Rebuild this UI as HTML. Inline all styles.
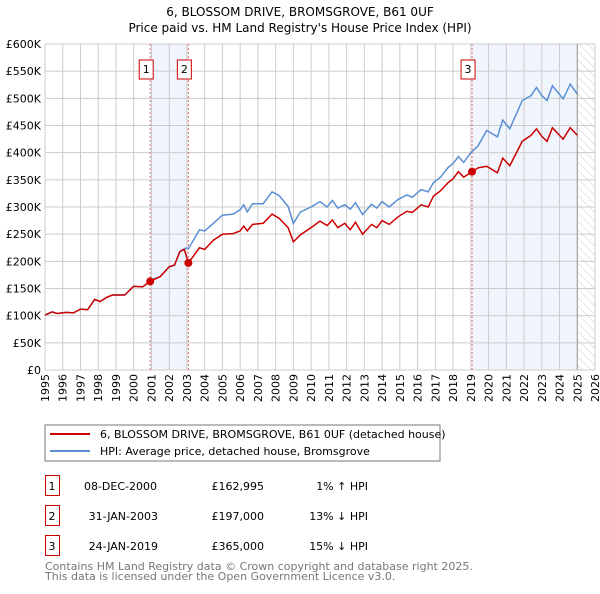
<!DOCTYPE html>
<html><head><meta charset="utf-8"><style>
body{margin:0;background:#fff;font-family:"DejaVu Sans","Liberation Sans",sans-serif;}
svg text{font-family:"DejaVu Sans","Liberation Sans",sans-serif;}
</style></head><body>
<svg id="chart" width="600" height="590" xmlns="http://www.w3.org/2000/svg">
<defs><pattern id="hatch" width="6" height="6" patternUnits="userSpaceOnUse" patternTransform="rotate(-45)"><line x1="0" y1="0" x2="0" y2="6" stroke="#ccc" stroke-width="1"/></pattern></defs>
<text x="300" y="16" font-size="12" text-anchor="middle">6, BLOSSOM DRIVE, BROMSGROVE, B61 0UF</text>
<text x="300" y="32" font-size="12" text-anchor="middle">Price paid vs. HM Land Registry's House Price Index (HPI)</text>
<g id="plot"></g>
<g>
<rect x="45" y="425" width="395" height="36" fill="#fff" stroke="#777"/>
<line x1="50" y1="434" x2="90" y2="434" stroke="#cc0000" stroke-width="2"/>
<text x="100" y="438" font-size="11">6, BLOSSOM DRIVE, BROMSGROVE, B61 0UF (detached house)</text>
<line x1="50" y1="451" x2="90" y2="451" stroke="#5b8fd4" stroke-width="2"/>
<text x="100" y="455" font-size="11">HPI: Average price, detached house, Bromsgrove</text>
</g>
<g font-size="11">
<rect x="45.5" y="475.5" width="14" height="20" fill="#fff" stroke="#cc0000"/><text x="52" y="490" text-anchor="middle">1</text>
<text x="157" y="490" text-anchor="end">08-DEC-2000</text><text x="264" y="490" text-anchor="end">£162,995</text><text x="368" y="490" text-anchor="end">1% ↑ HPI</text>
<rect x="45.5" y="505.5" width="14" height="20" fill="#fff" stroke="#cc0000"/><text x="52" y="520" text-anchor="middle">2</text>
<text x="158" y="520" text-anchor="end">31-JAN-2003</text><text x="264" y="520" text-anchor="end">£197,000</text><text x="368" y="520" text-anchor="end">13% ↓ HPI</text>
<rect x="45.5" y="535.5" width="14" height="20" fill="#fff" stroke="#cc0000"/><text x="52" y="550" text-anchor="middle">3</text>
<text x="158" y="550" text-anchor="end">24-JAN-2019</text><text x="264" y="550" text-anchor="end">£365,000</text><text x="368" y="550" text-anchor="end">15% ↓ HPI</text>
</g>
<text x="45" y="570" font-size="11" fill="#777">Contains HM Land Registry data © Crown copyright and database right 2025.</text>
<text x="45" y="580" font-size="11" fill="#777">This data is licensed under the Open Government Licence v3.0.</text>
</svg>
<script>
const hpiYears=[1995,1995.4,1995.7,1996.2,1996.6,1997,1997.4,1997.8,1998.1,1998.5,1998.8,1999.5,2000,2000.5,2001,2001.5,2002,2002.3,2002.6,2002.9,2003.1,2003.7,2004,2004.5,2005,2005.6,2006,2006.2,2006.4,2006.7,2007.3,2007.8,2008.2,2008.7,2009.0,2009.4,2010.0,2010.5,2010.9,2011.2,2011.5,2011.9,2012.2,2012.5,2012.9,2013.4,2013.7,2014.0,2014.4,2014.9,2015.4,2015.7,2016.2,2016.6,2016.9,2017.3,2017.7,2018.0,2018.3,2018.6,2019,2019.4,2019.9,2020.5,2020.8,2021.2,2021.9,2022.4,2022.7,2023.0,2023.3,2023.6,2024.2,2024.6,2025];
const hpiValues=[101,107,104,106,105,112,111,130,126,134,138,138,154,153,166,172,190,193,218,224,224,258,256,270,285,287,295,304,291,306,306,328,321,301,270,291,300,310,300,312,298,304,296,308,286,305,298,310,300,314,322,318,332,328,345,355,372,380,393,382,400,412,441,429,460,444,496,505,520,505,496,523,499,526,508];
const priceYears=[1995,1995.4,1995.7,1996.2,1996.6,1997,1997.4,1997.8,1998.1,1998.5,1998.8,1999.5,2000,2000.5,2000.93,2001.5,2002,2002.3,2002.6,2002.85,2003.08,2003.7,2004,2004.5,2005,2005.6,2006,2006.2,2006.4,2006.7,2007.3,2007.8,2008.2,2008.7,2009.0,2009.4,2010.0,2010.5,2010.9,2011.2,2011.5,2011.9,2012.2,2012.5,2012.9,2013.4,2013.7,2014.0,2014.4,2014.9,2015.4,2015.7,2016.2,2016.6,2016.9,2017.3,2017.7,2018.0,2018.3,2018.6,2019.07,2019.4,2019.9,2020.5,2020.8,2021.2,2021.9,2022.4,2022.7,2023.0,2023.3,2023.6,2024.2,2024.6,2025];
const priceValues=[101,107,104,106,105,112,111,130,126,134,138,138,154,153,163,172,190,193,218,222,197,225,222,239,250,251,256,265,256,268,270,287,279,262,236,249,262,274,266,276,262,270,258,272,250,268,262,275,268,282,292,290,304,300,320,330,344,352,365,355,365,372,375,363,390,376,421,432,444,430,421,446,425,446,432];
const saleYears=[2000.93,2003.08,2019.07];
const saleValues=[163,197,365];
const saleLabels=["1","2","3"];
const yTicks=[0,50,100,150,200,250,300,350,400,450,500,550,600];
const yTickLabels=["£0","£50K","£100K","£150K","£200K","£250K","£300K","£350K","£400K","£450K","£500K","£550K","£600K"];
const xTicks=[1995,1996,1997,1998,1999,2000,2001,2002,2003,2004,2005,2006,2007,2008,2009,2010,2011,2012,2013,2014,2015,2016,2017,2018,2019,2020,2021,2022,2023,2024,2025,2026];

const NS="http://www.w3.org/2000/svg";
const X0=45,X1=595,Y0=370,Y1=44;
const xs=y=>X0+(y-1995)/(2026-1995)*(X1-X0);
const ys=v=>Y0-v/600*(Y0-Y1);
const g=document.getElementById('plot');
function mk(tag,attrs,parent){const e=document.createElementNS(NS,tag);for(const k in attrs)e.setAttribute(k,attrs[k]);(parent||g).appendChild(e);return e;}
let s1=mk('rect',{x:xs(saleYears[0]),y:Y1,width:xs(saleYears[1])-xs(saleYears[0]),height:Y0-Y1,fill:'#f1f5fd'});


let s2=mk('rect',{x:xs(saleYears[2]),y:Y1,width:xs(2025)-xs(saleYears[2]),height:Y0-Y1,fill:'#f1f5fd'});


let h=mk('rect',{x:xs(2025),y:Y1,width:X1-xs(2025),height:Y0-Y1,fill:'url(#hatch)'});


yTicks.forEach((t,i)=>{
 let l=mk('line',{x1:X0,x2:X1,y1:ys(t),y2:ys(t),stroke:'#ccc','stroke-width':1});
 
 
 let tx=mk('text',{x:X0-4,y:ys(t)+4,'font-size':11,'text-anchor':'end'});
 
 
 tx.textContent=yTickLabels[i];
});
xTicks.forEach(t=>{
 let l=mk('line',{x1:xs(t),x2:xs(t),y1:Y1,y2:Y0,stroke:'#ccc','stroke-width':1});
 
 
 let tx=mk('text',{x:0,y:0,'font-size':11,'text-anchor':'end',transform:`translate(${xs(t)+4},${Y0+4}) rotate(-90)`});
 
 
 tx.textContent=t;
});
let vl=mk('line',{x1:xs(2025),x2:xs(2025),y1:Y1,y2:Y0,stroke:'#999','stroke-width':1});


saleYears.forEach((sy,i)=>{
 let l=mk('line',{x1:xs(sy),x2:xs(sy),y1:Y1,y2:Y0,stroke:'#e87070','stroke-width':1,'stroke-dasharray':'2,2'});
 
 
 let b=mk('rect',{x:xs(sy)-11,y:60,width:14,height:19,fill:'#fff',stroke:'#cc0000'});
 
 
 let t=mk('text',{x:xs(sy)-4,y:73,'font-size':11,'text-anchor':'middle'});
 
 
 t.textContent=saleLabels[i];
});
function path(xsArr,vs){return xsArr.map((y,i)=>(i?'L':'M')+xs(y).toFixed(1)+','+ys(vs[i]).toFixed(1)).join('');}
let hp=mk('path',{d:path(hpiYears,hpiValues),fill:'none',stroke:'#5b8fd4','stroke-width':1.5});


let pp=mk('path',{d:path(priceYears,priceValues),fill:'none',stroke:'#cc0000','stroke-width':1.5});


saleYears.forEach((sy,i)=>{
 let c=mk('circle',{cx:xs(sy),cy:ys(saleValues[i]),r:4,fill:'#cc0000'});
 
 
});
</script>
</body></html>
